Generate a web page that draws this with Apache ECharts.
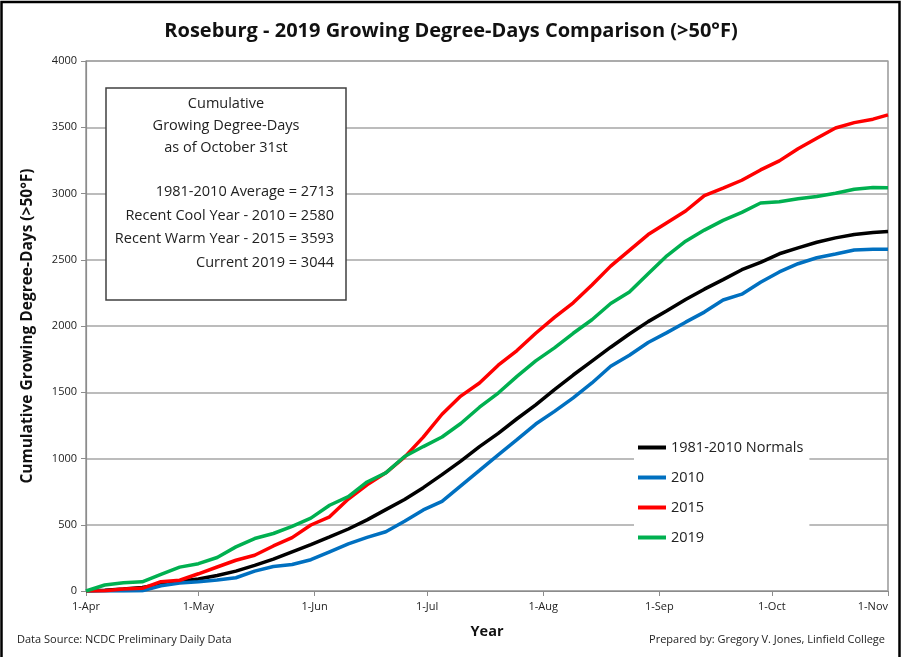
<!DOCTYPE html>
<html>
<head>
<meta charset="utf-8">
<script src="https://cdn.jsdelivr.net/npm/echarts@6/dist/echarts.min.js"></script>
<style>html,body{margin:0;padding:0;background:#fff}#c{width:902px;height:657px}</style>
</head>
<body>
<div id="c"></div>
<script>
const dates = ['2019-04-01','2019-04-06','2019-04-11','2019-04-16','2019-04-21','2019-04-26','2019-05-01','2019-05-06','2019-05-11','2019-05-16','2019-05-21','2019-05-26','2019-05-31','2019-06-05','2019-06-10','2019-06-15','2019-06-20','2019-06-25','2019-06-30','2019-07-05','2019-07-10','2019-07-15','2019-07-20','2019-07-25','2019-07-30','2019-08-04','2019-08-09','2019-08-14','2019-08-19','2019-08-24','2019-08-29','2019-09-03','2019-09-08','2019-09-13','2019-09-18','2019-09-23','2019-09-28','2019-10-03','2019-10-08','2019-10-13','2019-10-18','2019-10-23','2019-10-28','2019-11-01'];
const normals = [0,5,15,27,50,73,90,117,150,193,240,295,350,408,468,537,614,690,780,878,980,1090,1190,1300,1405,1520,1630,1735,1840,1940,2033,2115,2200,2278,2350,2425,2480,2545,2590,2632,2665,2690,2705,2713];
const y2010 = [0,0,0,2,40,60,70,83,100,150,185,200,236,296,356,405,447,526,612,676,793,910,1028,1142,1260,1356,1458,1570,1696,1779,1875,1950,2029,2105,2196,2240,2330,2408,2470,2515,2543,2573,2580,2580];
const y2015 = [0,2,15,20,70,81,130,181,232,270,340,403,498,560,694,802,892,1010,1161,1334,1471,1570,1704,1815,1945,2065,2175,2310,2452,2571,2690,2780,2868,2984,3040,3100,3178,3246,3338,3417,3494,3535,3561,3593];
const y2019 = [0,45,62,69,126,180,206,253,333,396,434,488,550,647,712,823,892,1015,1090,1162,1264,1387,1494,1620,1737,1835,1945,2047,2170,2256,2394,2530,2640,2724,2797,2858,2928,2938,2961,2978,3002,3032,3046,3044];
const seriesNames = ['1981-2010 Normals','2010','2015','2019'];
const seriesColors = ['#000000','#0070C0','#FF0000','#00B050'];
const monthNames = ['Jan','Feb','Mar','Apr','May','Jun','Jul','Aug','Sep','Oct','Nov','Dec'];
const boxTitle = ['Cumulative','Growing Degree-Days','as of October 31st'];
const boxStats = ['1981-2010 Average = 2713','Recent Cool Year - 2010 = 2580','Recent Warm Year - 2015 = 3593','Current 2019 = 3044'];

const FONT = 'Open Sans';
const allData = [normals, y2010, y2015, y2019];
const chart = echarts.init(document.getElementById('c'), null, {renderer:'canvas'});

const graphics = [
  {type:'rect', shape:{x:1.5,y:2,width:898,height:665}, style:{fill:'none',stroke:'#000',lineWidth:2.5}, z:100},
  {type:'rect', shape:{x:106,y:88,width:240,height:212}, style:{fill:'#fff',stroke:'#404040',lineWidth:1.5}, z:50}
];
boxTitle.forEach((t,i)=>graphics.push({type:'text', x:226, y:104+i*22, style:{text:t, font:'14.5px "'+FONT+'"', fill:'#222', textAlign:'center', textVerticalAlign:'middle'}, z:51}));
boxStats.forEach((t,i)=>graphics.push({type:'text', x:334, y:192+i*23.5, style:{text:t, font:'14.5px "'+FONT+'"', fill:'#222', textAlign:'right', textVerticalAlign:'middle'}, z:51}));
graphics.push({type:'text', x:17, y:640, style:{text:'Data Source: NCDC Preliminary Daily Data', font:'11px "'+FONT+'"', fill:'#222', textAlign:'left', textVerticalAlign:'middle'}});
graphics.push({type:'text', x:885, y:640, style:{text:'Prepared by: Gregory V. Jones, Linfield College', font:'11px "'+FONT+'"', fill:'#222', textAlign:'right', textVerticalAlign:'middle'}});

chart.setOption({
  animation:false,
  textStyle:{fontFamily:FONT},
  title:{text:'Roseburg - 2019 Growing Degree-Days Comparison (>50°F)', left:'center', top:16,
    textStyle:{fontSize:20, fontWeight:'bold', color:'#111', fontFamily:FONT}},
  grid:{left:86, right:14, top:61, bottom:66, show:true, borderColor:'#7f7f7f', borderWidth:1.2},
  legend:{orient:'vertical', left:634, top:435, itemWidth:28, itemHeight:4, itemGap:15,
    icon:'rect', backgroundColor:'#fff', padding:[5,6,6,4],
    textStyle:{fontSize:14.5, color:'#222', fontFamily:FONT},
    data:seriesNames},
  xAxis:{type:'time', min:dates[0], max:dates[dates.length-1], splitNumber:7,
    minInterval:28*86400000, maxInterval:31*86400000,
    axisLine:{lineStyle:{color:'#8c8c8c', width:1.2}},
    axisTick:{show:true, length:5, lineStyle:{color:'#8c8c8c'}},
    splitLine:{show:false},
    axisLabel:{fontSize:11, color:'#222', margin:10, showMinLabel:true, showMaxLabel:true, alignMaxLabel:'right',
      formatter:function(v){const d=new Date(v);return d.getDate()+'-'+monthNames[d.getMonth()];}},
    name:'Year', nameLocation:'middle', nameGap:33,
    nameTextStyle:{fontSize:14.5, fontWeight:'bold', color:'#111'}},
  yAxis:{type:'value', min:0, max:4000, interval:500,
    axisLine:{show:true, lineStyle:{color:'#8c8c8c', width:1.2}},
    axisTick:{show:true, length:5, lineStyle:{color:'#8c8c8c'}},
    splitLine:{lineStyle:{color:'#a6a6a6', width:1.5}},
    axisLabel:{fontSize:11, color:'#222', margin:9, formatter:function(v){return String(v);}},
    name:'Cumulative Growing Degree-Days (>50°F)', nameLocation:'middle', nameGap:50,
    nameTextStyle:{fontSize:15.5, fontWeight:'bold', color:'#111'}},
  series: seriesNames.map((n,i)=>({
    name:n, type:'line', symbol:'none', smooth:false,
    data: dates.map((d,j)=>[d, allData[i][j]]),
    lineStyle:{color:seriesColors[i], width:3.5},
    itemStyle:{color:seriesColors[i]}, z:2+i
  })),
  graphic: graphics
});
</script>
</body>
</html>
